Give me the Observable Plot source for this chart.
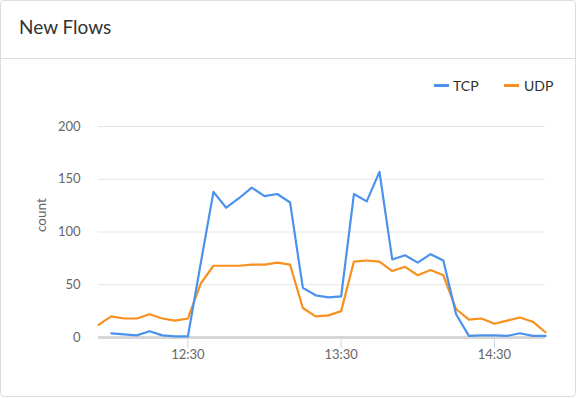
<!DOCTYPE html>
<html>
<head>
<meta charset="utf-8">
<script src="https://cdn.jsdelivr.net/npm/d3@7"></script>
<script src="https://cdn.jsdelivr.net/npm/@observablehq/plot@0.6"></script>
<style>
  html, body { margin: 0; padding: 0; background: #fff; }
  body { width: 578px; height: 398px; position: relative; overflow: hidden; font-family: Lato, "Open Sans", sans-serif; }
  #card { position: absolute; left: 0; top: 0; width: 576px; height: 397px; box-sizing: border-box; border: 1px solid #ddd; border-radius: 4px; }
  #sep { position: absolute; left: 0; top: 58px; width: 576px; height: 1px; background: #ddd; }
  #title { position: absolute; left: 19px; top: 15px; font-size: 19px; line-height: normal; color: #333; white-space: nowrap; }
  .lg { position: absolute; top: 77px; font-size: 14px; line-height: normal; color: #2f2f2f; white-space: nowrap; }
  .sw { position: absolute; top: 84px; width: 15px; height: 3px; }
  #chart { position: absolute; left: 0; top: 100px; }
</style>
</head>
<body>
<div id="card"></div>
<div id="sep"></div>
<div id="title">New Flows</div>
<div id="legend"></div>
<div id="chart"></div>
<script>
const times = ["11:55","12:00","12:05","12:10","12:15","12:20","12:25","12:30","12:35","12:40","12:45","12:50",
               "12:55","13:00","13:05","13:10","13:15","13:20","13:25","13:30","13:35","13:40","13:45","13:50",
               "13:55","14:00","14:05","14:10","14:15","14:20","14:25","14:30","14:35","14:40","14:45","14:50"];
const tcp = [null, 4, 3, 2, 6, 2, 1, 1, 70, 138, 123, 132, 142, 134, 136, 128, 47, 40, 38, 39,
             136, 129, 157, 74, 78, 71, 79, 73, 22, 1.5, 2, 2, 1.5, 4, 1.5, 1.5];
const udp = [12, 20, 18, 18, 22, 18, 16, 18, 51, 68, 68, 68, 69, 69, 71, 69, 28, 20, 21, 25,
             72, 73, 72, 63, 67, 59, 64, 59, 27, 17, 18, 13, 16, 19, 15, 5];
const seriesNames = ["TCP", "UDP"];
const seriesColors = ["#4a92ec", "#f7901e"];
const yTicks = [0, 50, 100, 150, 200];
const xTickLabels = ["12:30", "13:30", "14:30"];

const toDate = s => { const [h, m] = s.split(":").map(Number); return new Date(Date.UTC(2020, 0, 1, h, m)); };
const rows = [];
times.forEach((t, i) => {
  if (tcp[i] != null) rows.push({time: toDate(t), value: tcp[i], series: "TCP"});
  if (udp[i] != null) rows.push({time: toDate(t), value: udp[i], series: "UDP"});
});

// Legend (HTML)
const legend = document.getElementById("legend");
const legendPos = [{sw: 434, tx: 453}, {sw: 504, tx: 524}];
seriesNames.forEach((name, i) => {
  const sw = document.createElement("div");
  sw.className = "sw"; sw.style.left = legendPos[i].sw + "px"; sw.style.background = seriesColors[i];
  const tx = document.createElement("div");
  tx.className = "lg"; tx.style.left = legendPos[i].tx + "px"; tx.textContent = name;
  legend.appendChild(sw); legend.appendChild(tx);
});

const chart = Plot.plot({
  width: 578,
  height: 290,
  marginTop: 26,
  marginBottom: 53,
  marginLeft: 98,
  marginRight: 33,
  style: {fontFamily: "Lato, 'Open Sans', sans-serif", fontSize: "13px", color: "#666", background: "transparent"},
  x: {type: "utc", domain: [toDate(times[0]), toDate(times[times.length - 1])]},
  y: {domain: [0, 200]},
  color: {domain: seriesNames, range: seriesColors},
  marks: [
    Plot.gridY(yTicks.slice(1), {stroke: "#e6e6e6", strokeOpacity: 1, strokeWidth: 1}),
    Plot.axisY(yTicks, {tickSize: 0, tickPadding: 18, label: null, fill: "#666"}),
    Plot.text(["count"], {frameAnchor: "left", dx: -57, rotate: -90, fill: "#666", fontSize: 13.5}),
    Plot.axisX(xTickLabels.map(toDate), {tickSize: 11, tickPadding: 1, stroke: "#c9d4e8", fill: "#666",
      tickFormat: d3.utcFormat("%H:%M"), label: null}),
    Plot.ruleY([0], {stroke: "#d6d6d6", strokeWidth: 3}),
    Plot.line(rows, {x: "time", y: "value", z: "series", stroke: "series", strokeWidth: 2.2})
  ]
});
document.getElementById("chart").appendChild(chart);
</script>
</body>
</html>
